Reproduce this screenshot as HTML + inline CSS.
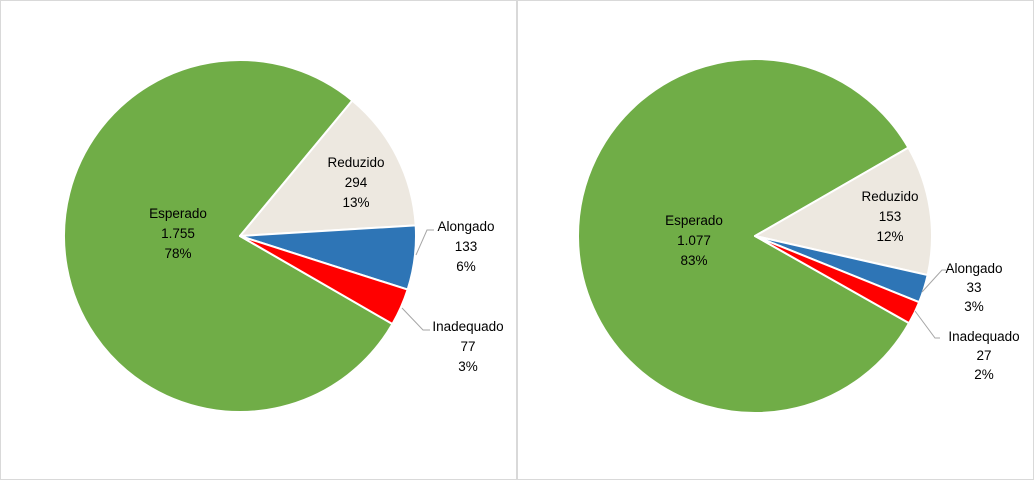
<!DOCTYPE html>
<html><head><meta charset="utf-8"><style>
body{margin:0;background:#fff;}
svg{display:block;font-family:"Liberation Sans",Calibri,sans-serif;font-size:13.5px;}
</style></head><body>
<svg id="s" width="1034" height="480" viewBox="0 0 1034 480">
<rect x="0.5" y="0.5" width="516" height="479" fill="#fff" stroke="#d9d9d9"/>
<rect x="517.5" y="0.5" width="516" height="479" fill="#fff" stroke="#d9d9d9"/>
<g id="p1"></g><g id="p2"></g>
<g fill="none" stroke="#a6a6a6" stroke-width="1">
<polyline points="416,255 427,230 434,230"/>
<polyline points="402,308 423,330 430,330"/>
<polyline points="922,292 942,270 946,270"/>
<polyline points="915,311 935,338 940,338"/>
</g>
<g text-anchor="middle" fill="#000">
<text x="178" y="218">Esperado</text><text x="178" y="238">1.755</text><text x="178" y="258">78%</text>
<text x="356" y="167">Reduzido</text><text x="356" y="187">294</text><text x="356" y="207">13%</text>
<text x="466" y="231">Alongado</text><text x="466" y="251">133</text><text x="466" y="271">6%</text>
<text x="468" y="331">Inadequado</text><text x="468" y="351">77</text><text x="468" y="371">3%</text>
<text x="694" y="225">Esperado</text><text x="694" y="245">1.077</text><text x="694" y="265">83%</text>
<text x="890" y="201">Reduzido</text><text x="890" y="221">153</text><text x="890" y="241">12%</text>
<text x="974" y="273">Alongado</text><text x="974" y="292">33</text><text x="974" y="311">3%</text>
<text x="984" y="341">Inadequado</text><text x="984" y="360">27</text><text x="984" y="379">2%</text>
</g>
</svg>
<script>
function pie(id,cx,cy,r,start,vals,cols){
 var t=vals.reduce(function(a,b){return a+b},0),a=start,g=document.getElementById(id),h='';
 vals.forEach(function(v,i){
  var s=v/t*360,a0=(a-90)*Math.PI/180,a1=(a+s-90)*Math.PI/180;
  var x0=cx+r*Math.cos(a0),y0=cy+r*Math.sin(a0),x1=cx+r*Math.cos(a1),y1=cy+r*Math.sin(a1);
  h+='<path d="M'+cx+','+cy+' L'+x0+','+y0+' A'+r+','+r+' 0 '+(s>180?1:0)+' 1 '+x1+','+y1+' Z" fill="'+cols[i]+'" stroke="#fff" stroke-width="2" stroke-linejoin="round"/>';
  a+=s;});
 g.innerHTML=h;}
var c=['#70ad47','#ede8e0','#2e75b6','#ff0000'];
pie('p1',240,236,176,120,[1755,294,133,77],c);
pie('p2',755,236,177,119.5,[1077,153,33,27],c);
</script>
</body></html>
